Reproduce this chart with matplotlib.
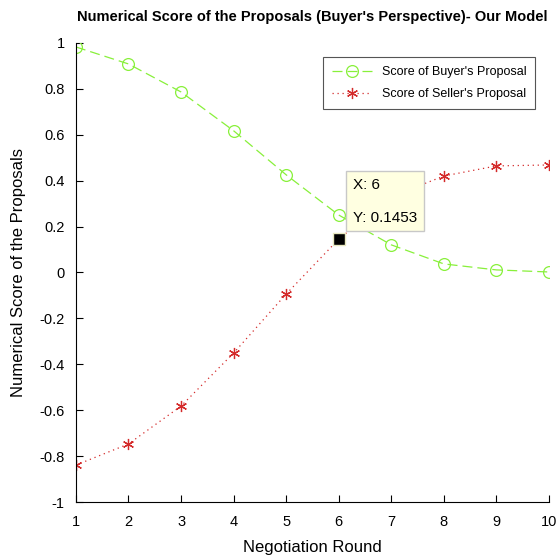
import matplotlib
matplotlib.use('Agg')
import matplotlib.pyplot as plt
import numpy as np

plt.rcParams['font.family'] = ['Liberation Sans', 'DejaVu Sans']

# negotiation data
rounds = np.arange(1, 11)
buyer = [0.982, 0.908, 0.786, 0.617, 0.425, 0.250, 0.120, 0.037, 0.011, 0.002]
seller = [-0.839, -0.747, -0.582, -0.351, -0.094, 0.1453, 0.330, 0.420, 0.464, 0.468]
tip_x = 6
tip_y = 0.1453

fig = plt.figure(figsize=(5.58, 5.56), dpi=100)
ax = fig.add_axes([0.136, 0.097, 0.848, 0.826])

green = '#88f03a'
red = '#d42a2a'
ax.plot(rounds, buyer, color=green, ls=(0, (8, 4)), lw=0.9, marker='o', ms=8.5,
        mfc='none', mec=green, mew=0.9, label="Score of Buyer's Proposal")
ax.plot(rounds, seller, color=red, ls=(0, (1, 3)), lw=0.9, marker=(6, 2, 0), ms=8,
        mfc=red, mec=red, mew=0.9, label="Score of Seller's Proposal")

# data tip
ax.plot(tip_x, tip_y, marker='s', ms=9, mfc='black', mec='#e8e8c0', zorder=7)
ax.text(tip_x + 0.27, tip_y + 0.265, "X: %d\n\nY: %.4f" % (tip_x, tip_y), fontsize=11,
        va='top', ha='left', linespacing=1.2,
        bbox=dict(boxstyle='square,pad=0.45', fc='#ffffe1', ec='#c8c8c8', lw=1),
        zorder=6)

ax.set_xlim(1, 10)
ax.set_ylim(-1, 1)
ax.set_xticks(rounds)
ax.set_yticks(np.arange(-1, 1.01, 0.2))
ax.set_yticklabels(['-1', '-0.8', '-0.6', '-0.4', '-0.2', '0', '0.2', '0.4', '0.6', '0.8', '1'])
ax.tick_params(direction='in', length=5, labelsize=10.5)
ax.tick_params(axis='x', pad=9)
ax.tick_params(axis='y', pad=8)
ax.spines['top'].set_visible(False)
ax.spines['right'].set_visible(False)

ax.set_xlabel('Negotiation Round', fontsize=12, labelpad=8)
ax.set_ylabel('Numerical Score of the Proposals', fontsize=12, labelpad=10)
ax.set_title("Numerical Score of the Proposals (Buyer's Perspective)- Our Model",
             fontsize=10.5, fontweight='bold', pad=16)

leg = ax.legend(loc='upper right', bbox_to_anchor=(0.984, 0.982), fontsize=9,
                fancybox=False, edgecolor='#555555', framealpha=1, handlelength=3.2,
                labelspacing=0.8, borderpad=0.7)
leg.get_frame().set_linewidth(0.8)

fig.savefig('out.png', dpi=100)
